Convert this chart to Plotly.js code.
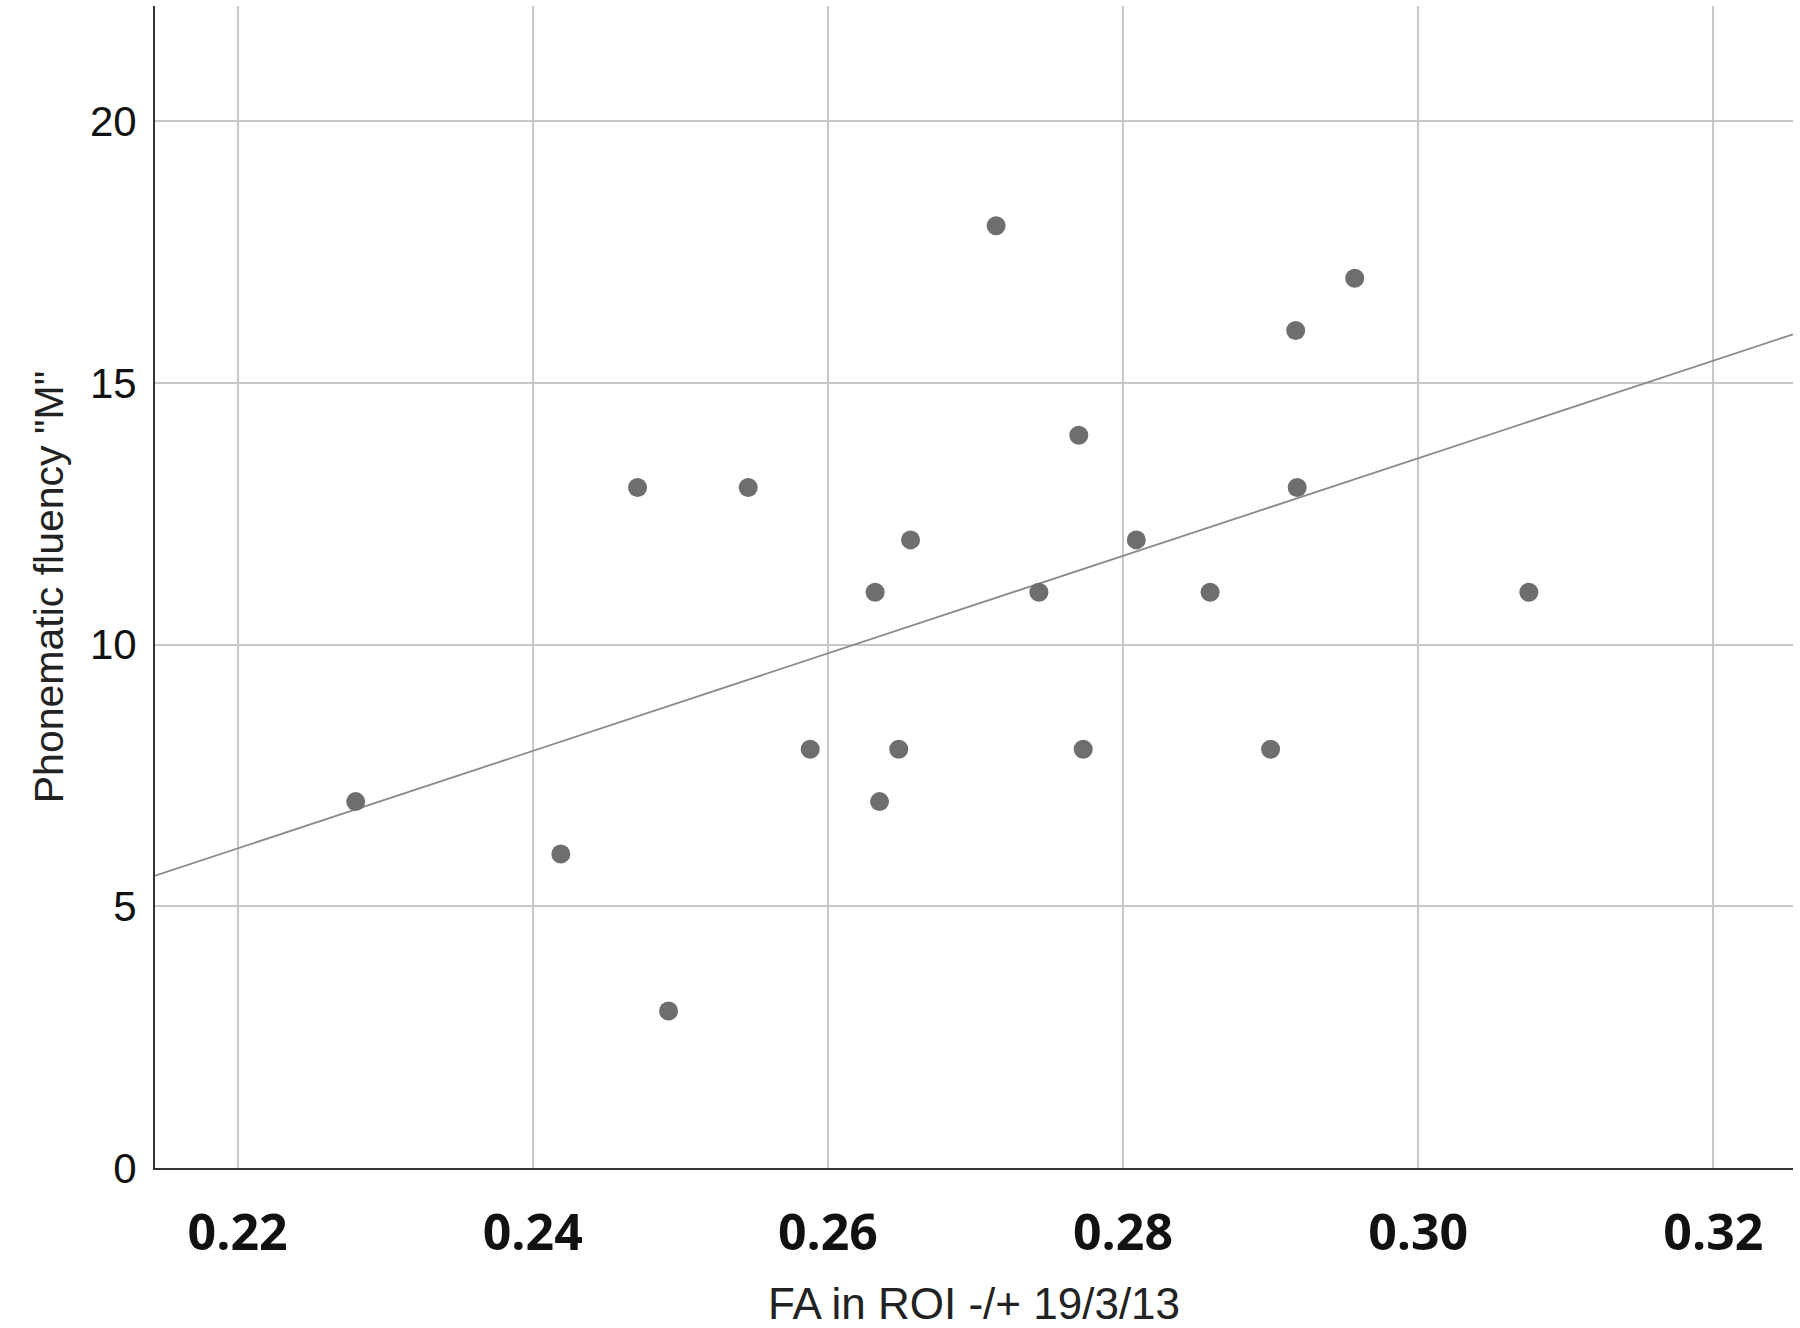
<!DOCTYPE html>
<html>
<head>
<meta charset="utf-8">
<script src="https://cdn.plot.ly/plotly-3.0.1.min.js"></script>
<style>html,body{margin:0;padding:0;background:#fff}</style>
</head>
<body>
<div id="chart" style="width:1800px;height:1328px"></div>
<script>
var fa = [0.2280, 0.2419, 0.2471, 0.2492, 0.2546, 0.2588, 0.2632, 0.2635, 0.2648, 0.2656, 0.2714,
          0.2743, 0.2770, 0.2773, 0.2809, 0.2859, 0.2900, 0.2917, 0.2918, 0.2957, 0.3075];
var fluency = [7, 6, 13, 3, 13, 8, 11, 7, 8, 12, 18, 11, 14, 8, 12, 11, 8, 16, 13, 17, 11];
var xRange = [0.2144, 0.3254];
var xTicks = [0.22, 0.24, 0.26, 0.28, 0.30, 0.32];
var xTickText = ['0.22', '0.24', '0.26', '0.28', '0.30', '0.32'];

// least-squares fit line
var n = fa.length, mx = 0, my = 0;
for (var i = 0; i < n; i++) { mx += fa[i]; my += fluency[i]; }
mx /= n; my /= n;
var sxy = 0, sxx = 0;
for (var i = 0; i < n; i++) { sxy += (fa[i]-mx)*(fluency[i]-my); sxx += (fa[i]-mx)*(fa[i]-mx); }
var slope = sxy / sxx, icpt = my - slope*mx;

var fit = {
  type: 'scatter', mode: 'lines', hoverinfo: 'skip',
  x: xRange, y: xRange.map(function(v) { return icpt + slope*v; }),
  line: {color: '#8a8a8a', width: 1.8}
};
var pts = {
  type: 'scatter', mode: 'markers',
  x: fa, y: fluency,
  marker: {color: '#6e6e6e', size: 19}
};

var layout = {
  showlegend: false,
  paper_bgcolor: '#fff', plot_bgcolor: '#fff',
  margin: {l: 155, r: 7, t: 6, b: 160},
  xaxis: {
    range: xRange, tickmode: 'array', tickvals: xTicks, ticktext: xTickText,
    showgrid: true, gridcolor: '#c8c8c8', gridwidth: 2, zeroline: false,
    showline: true, linecolor: '#333', linewidth: 2, ticks: '', ticklabelstandoff: 20,
    tickfont: {family: 'Open Sans', size: 50, color: '#111', weight: 'bold'},
    title: {text: 'FA in ROI -/+ 19/3/13', standoff: 30,
            font: {family: 'Liberation Sans', size: 44, color: '#222'}}
  },
  yaxis: {
    range: [0, 22.2], tickvals: [0, 5, 10, 15, 20],
    showgrid: true, gridcolor: '#c8c8c8', gridwidth: 2, zeroline: false,
    showline: true, linecolor: '#333', linewidth: 2, ticks: '', ticklabelstandoff: 8,
    tickfont: {family: 'Liberation Sans', size: 42, color: '#111'},
    title: {text: 'Phonematic fluency "M"', standoff: 14,
            font: {family: 'Liberation Sans', size: 41, color: '#222'}}
  }
};

Plotly.newPlot('chart', [fit, pts], layout, {staticPlot: true});
</script>
</body>
</html>
